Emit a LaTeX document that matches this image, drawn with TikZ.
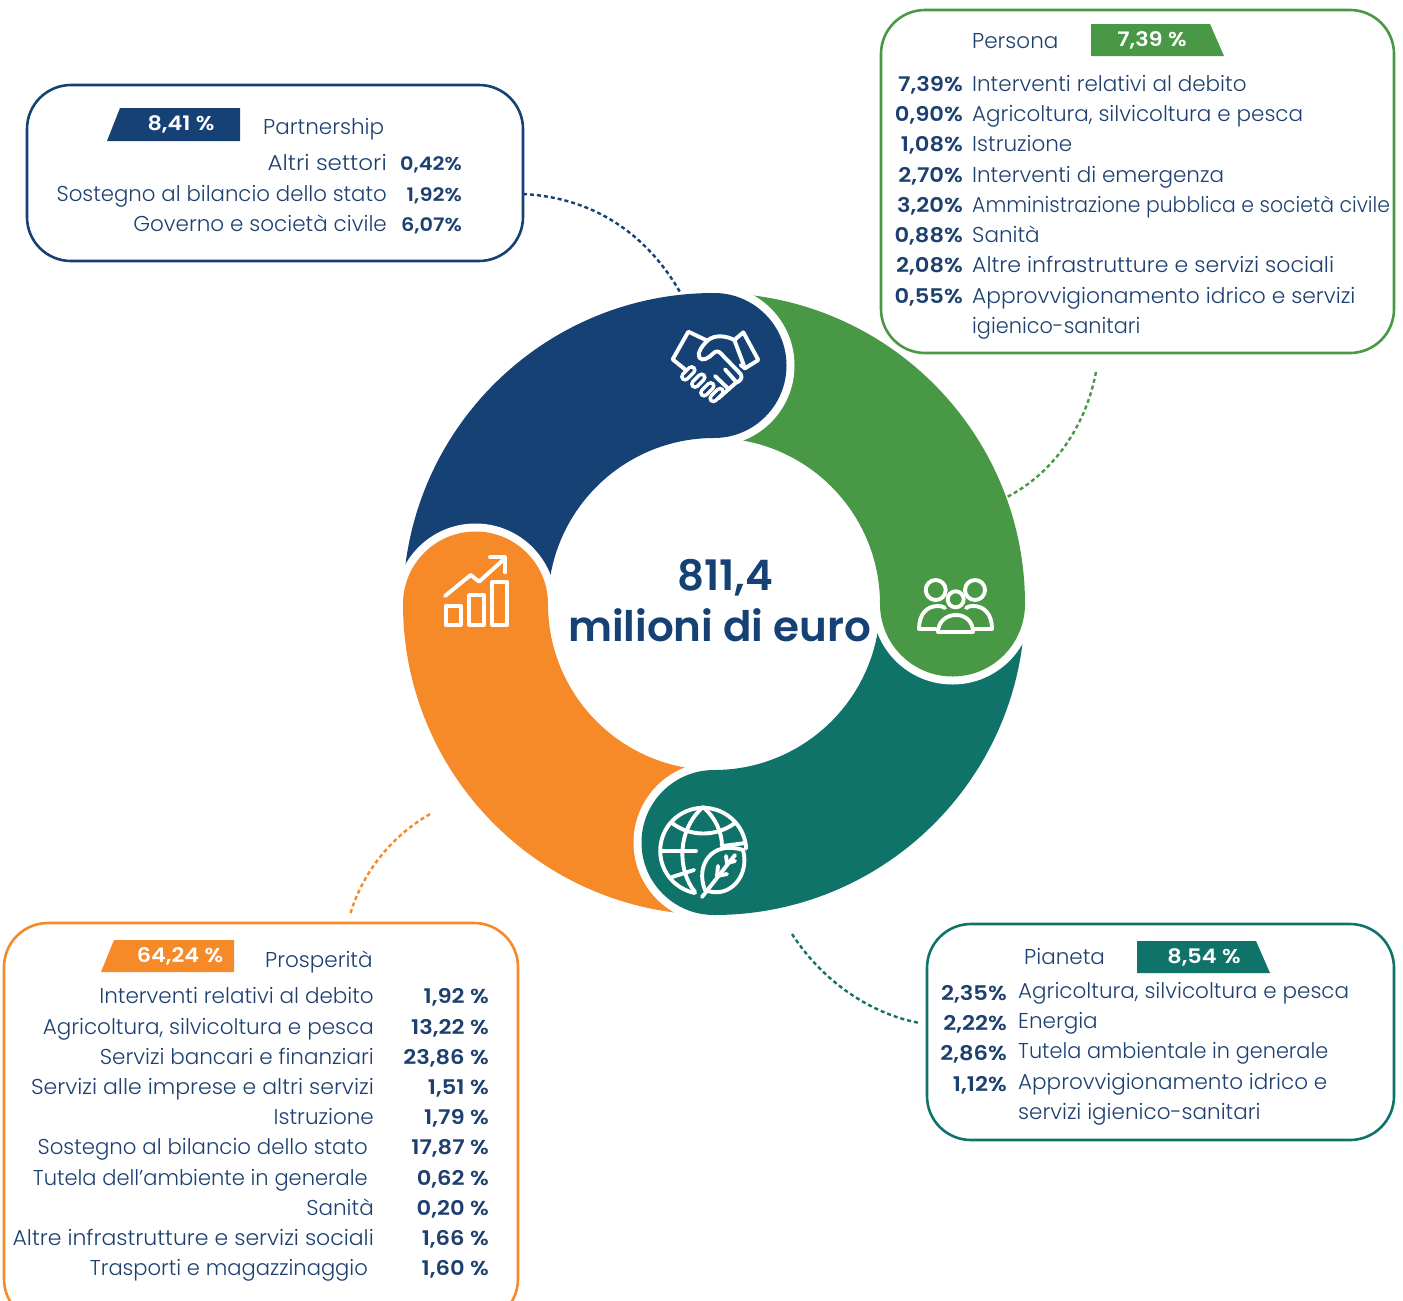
\documentclass[tikz,border=0pt]{standalone}
\usepackage{fontspec}
\setmainfont{Poppins}[UprightFont=* Light,BoldFont=* SemiBold]
\newfontfamily\valfont{Poppins SemiBold}[FakeStretch=1.12]
\definecolor{cblue}{HTML}{154175}
\definecolor{cgreen}{HTML}{499845}
\definecolor{cteal}{HTML}{107369}
\definecolor{corange}{HTML}{F68A29}
\definecolor{ctext}{HTML}{1D4071}
\tikzset{
  panel/.style={draw=#1,line width=2.6pt,rounded corners=44pt,fill=white,outer sep=0pt,inner sep=0pt,anchor=north west},
  link/.style={draw=#1,line width=2.4pt,dash pattern=on 4pt off 3pt},
  badge/.style={fill=#1},
  badgetext/.style={text=white,font=\fontsize{20}{24}\valfont,inner sep=0pt,anchor=center},
  lab/.style={text=ctext,font=\fontsize{21.5}{24}\selectfont,inner sep=0pt},
  val/.style={text=ctext,font=\fontsize{20.2}{24}\valfont,inner sep=0pt},
  valsmall/.style={text=ctext,font=\fontsize{18.6}{24}\valfont,inner sep=0pt},
  icon/.style={draw=white,line width=3.9pt,line cap=round,line join=round},
}
\newcommand\rowL[4]{%
  \node[val,anchor=base east] (v#1) at (#2,#4) {#3};}
\newcommand\rowS[4]{%
  \node[valsmall,anchor=base east] (v#1) at (#2,#4) {#3};}
\newcommand\rowT[4]{%
  \node[lab,anchor=base #3] (#1) at (#2) {#4};}
\begin{document}
\begin{tikzpicture}[x=1pt,y=-1pt]
\clip (0,0) rectangle (1403,1301);
\fill[white] (0,0) rectangle (1403,1301);
\def\Ro{311}\def\Ri{166}
% quadrants
\fill[cgreen] (714,293) arc[start angle=-90,end angle=0,radius=\Ro] -- (880,604) arc[start angle=0,end angle=-90,radius=\Ri] -- cycle;
\fill[cteal] (1025,604) arc[start angle=0,end angle=90,radius=\Ro] -- (714,770) arc[start angle=90,end angle=0,radius=\Ri] -- cycle;
\fill[corange] (714,915) arc[start angle=90,end angle=180,radius=\Ro] -- (548,604) arc[start angle=180,end angle=90,radius=\Ri] -- cycle;
\fill[cblue] (403,604) arc[start angle=180,end angle=270,radius=\Ro] -- (714,438) arc[start angle=270,end angle=180,radius=\Ri] -- cycle;
% round caps with a white edge, each over the next segment
\begin{scope}\clip (714,270) rectangle (810,460); \fill[white] (714,365.5) circle[radius=80.5];\end{scope}
\fill[cblue] (714,365.5) circle[radius=72.5];
\begin{scope}\clip (860,604) rectangle (1040,700); \fill[white] (952.5,604) circle[radius=80.5];\end{scope}
\fill[cgreen] (952.5,604) circle[radius=72.5];
\begin{scope}\clip (620,750) rectangle (714,930); \fill[white] (714,842.5) circle[radius=80.5];\end{scope}
\fill[cteal] (714,842.5) circle[radius=72.5];
\begin{scope}\clip (390,510) rectangle (570,604); \fill[white] (475.5,604) circle[radius=80.5];\end{scope}
\fill[corange] (475.5,604) circle[radius=72.5];
% centre text
\node[text=cblue,font=\fontsize{42}{50}\selectfont\bfseries,inner sep=0pt,anchor=base] (total) at (725,590) {811,4};
\node[text=cblue,font=\fontsize{42}{50}\selectfont\bfseries,inner sep=0pt,anchor=base] (unit) at (719.5,641) {milioni di euro};
% handshake icon (coordinates of a 3x crop)
\begin{scope}[shift={(630,290)},x=0.33333pt,y=-0.33333pt,icon]
 \draw (165,238) -- (128,208) -- (175,125) -- (232,152);
 \draw (313,150) -- (340,127) -- (385,210) -- (345,235) -- cycle;
 \draw (313,150) .. controls (290,138) and (255,132) .. (232,152) .. controls (218,165) and (200,190) .. (208,203) .. controls (218,215) and (235,205) .. (250,190) .. controls (258,182) and (266,183) .. (272,190) -- (332,252) .. controls (340,265) and (328,275) .. (318,278) -- (265,325);
 \draw (332,225) -- (345,235);
 \draw (255,258) -- (297,298);
 \draw (285,238) -- (318,275);
 \foreach \cx/\cy in {175/250,205/272,232/298,260/315} {
  \draw[line width=10pt] (\cx-10,\cy+10) -- (\cx+10,\cy-10);
  \draw[draw=cblue,line width=2.8pt] (\cx-10,\cy+10) -- (\cx+10,\cy-10);
 }
\end{scope}
% people icon
\begin{scope}[icon]
 \draw (935.7,590) circle[radius=10];
 \draw (975,590) circle[radius=10];
 \draw (955.7,599.3) circle[radius=8];
 \draw (936,629) -- (919,629) .. controls (919,615) and (926,606) .. (938,606) .. controls (941,606) and (943,606.5) .. (945,608);
 \draw (974,629) -- (992,629) .. controls (992,615) and (985,606) .. (973,606) .. controls (970,606) and (968,606.5) .. (966,608);
 \draw (938,632) .. controls (938,622) and (946,615) .. (956,615) .. controls (966,615) and (973,622) .. (973,632) -- cycle;
\end{scope}
% globe and leaf icon
\begin{scope}[icon]
 \draw (695,893) arc[start angle=101,end angle=357,radius=43];
 \draw (703,807) .. controls (677,830) and (677,870) .. (695,892);
 \draw (703,807) .. controls (715,817) and (722,832) .. (722,846);
 \draw (672,823) .. controls (690,837) and (716,837) .. (735,823);
 \draw (662,851) -- (696,851);
 \draw (672,877) -- (694,870);
 \draw (723,846) -- (745,843);
 \draw (705,890) .. controls (695,865) and (712,840) .. (743,850) .. controls (750,875) and (730,900) .. (705,890) -- cycle;
 \draw (702,897) -- (735,855);
 \draw (717,876) -- (718,866) (717,876) -- (727,874);
 \draw (727,863) -- (726,856) (727,863) -- (735,861);
\end{scope}
% chart icon
\begin{scope}[icon]
 \draw (445.7,606) rectangle (460.7,625);
 \draw (469,595) rectangle (484,625);
 \draw (492.3,582.3) rectangle (507.3,625);
 \draw (445,596) -- (470.7,575) -- (479,581.7) -- (505,558.3);
 \draw (490,557.3) -- (505,557.3) -- (505,572.3);
\end{scope}
% Partnership panel
\node[panel=cblue,minimum width=496pt,minimum height=176pt] (pa) at (27,85) {};
\coordinate (paend) at (523,194);
\coordinate (paring) at (680,292);
\draw[link=cblue] (paend) .. controls (600,198) and (650,240) .. (paring);
\fill[badge=cblue] (120,108) -- (240,108) -- (240,141) -- (107,141) -- cycle;
\node[badgetext] (pab) at (181,124.5) {8,41 \%};
\rowT{pah}{263,134}{west}{Partnership}
\rowT{pa1}{387,170}{east}{\scalebox{1.07}[1]{Altri settori}}
\rowT{pa2}{387,201}{east}{\scalebox{0.99}[1]{Sostegno al bilancio dello stato}}
\rowT{pa3}{387,231}{east}{Governo e società civile}
\rowS{pa1}{462}{0,42\%}{170}
\rowS{pa2}{462}{1,92\%}{201}
\rowS{pa3}{462}{6,07\%}{231}
% Persona panel
\node[panel=cgreen,minimum width=513pt,minimum height=343pt] (pe) at (881,10) {};
\coordinate (peend) at (1096,372);
\coordinate (pering) at (1007,497);
\draw[link=cgreen] (peend) .. controls (1085,430) and (1050,475) .. (pering);
\fill[badge=cgreen] (1091,24) -- (1210,24) -- (1224,56) -- (1091,56) -- cycle;
\node[badgetext] (peb) at (1152,40.5) {7,39 \%};
\rowT{peh}{972,48}{west}{Persona}
\rowT{pe1}{972,91}{west}{Interventi relativi al debito}
\rowT{pe2}{972,121}{west}{Agricoltura, silvicoltura e pesca}
\rowT{pe3}{972,151}{west}{Istruzione}
\rowT{pe4}{972,182}{west}{Interventi di emergenza}
\rowT{pe5}{972,212}{west}{\scalebox{0.948}[1]{Amministrazione pubblica e società civile}}
\rowT{pe6}{972,242}{west}{Sanità}
\rowT{pe7}{972,272}{west}{\scalebox{1.025}[1]{Altre infrastrutture e servizi sociali}}
\rowT{pe8}{972,303}{west}{\scalebox{1.013}[1]{Approvvigionamento idrico e servizi}}
\rowT{pe9}{972,333}{west}{\scalebox{0.97}[1]{igienico-sanitari}}
\rowL{pe1}{963}{7,39\%}{91}
\rowL{pe2}{963}{0,90\%}{121}
\rowL{pe3}{963}{1,08\%}{151}
\rowL{pe4}{963}{2,70\%}{182}
\rowL{pe5}{963}{3,20\%}{212}
\rowL{pe6}{963}{0,88\%}{242}
\rowL{pe7}{963}{2,08\%}{272}
\rowL{pe8}{963}{0,55\%}{303}
% Pianeta panel
\node[panel=cteal,minimum width=467pt,minimum height=216pt] (pi) at (927,924) {};
\coordinate (piend) at (920,1023);
\coordinate (piring) at (792,934);
\draw[link=cteal] (piring) .. controls (825,985) and (875,1015) .. (piend);
\fill[badge=cteal] (1137,941) -- (1256,941) -- (1270,973) -- (1137,973) -- cycle;
\node[badgetext] (pib) at (1204,957.5) {8,54 \%};
\rowT{pih}{1024,964}{west}{Pianeta}
\rowT{pi1}{1018,998}{west}{Agricoltura, silvicoltura e pesca}
\rowT{pi2}{1018,1028}{west}{Energia}
\rowT{pi3}{1018,1058}{west}{\scalebox{0.968}[1]{Tutela ambientale in generale}}
\rowT{pi4}{1018,1089}{west}{Approvvigionamento idrico e}
\rowT{pi5}{1018,1119}{west}{servizi igienico-sanitari}
\rowL{pi1}{1007}{2,35\%}{1000}
\rowL{pi2}{1007}{2,22\%}{1030}
\rowL{pi3}{1007}{2,86\%}{1060}
\rowL{pi4}{1007}{1,12\%}{1091}
% Prosperita panel
\node[panel=corange,minimum width=514pt,minimum height=400pt] (pr) at (4,923) {};
\coordinate (prend) at (350,915);
\coordinate (prring) at (430,814);
\draw[link=corange] (prring) .. controls (385,840) and (360,880) .. (prend);
\fill[badge=corange] (114,940) -- (234,940) -- (234,972) -- (101,972) -- cycle;
\node[badgetext] (prb) at (180,956.5) {64,24 \%};
\rowT{prh}{265,967}{west}{Prosperità}
\rowT{pr1}{374,1003}{east}{Interventi relativi al debito}
\rowT{pr2}{374,1034}{east}{Agricoltura, silvicoltura e pesca}
\rowT{pr3}{374,1064}{east}{Servizi bancari e finanziari}
\rowT{pr4}{374,1094}{east}{\scalebox{1.023}[1]{Servizi alle imprese e altri servizi}}
\rowT{pr5}{374,1124}{east}{Istruzione}
\rowT{pr6}{368,1154}{east}{\scalebox{0.99}[1]{Sostegno al bilancio dello stato}}
\rowT{pr7}{368,1185}{east}{\scalebox{0.977}[1]{Tutela dell'ambiente in generale}}
\rowT{pr8}{374,1215}{east}{Sanità}
\rowT{pr9}{374,1245}{east}{\scalebox{1.023}[1]{Altre infrastrutture e servizi sociali}}
\rowT{pr10}{368,1275}{east}{\scalebox{0.98}[1]{Trasporti e magazzinaggio}}
\rowL{pr1}{489}{1,92 \%}{1003}
\rowL{pr2}{489}{13,22 \%}{1034}
\rowL{pr3}{489}{23,86 \%}{1064}
\rowL{pr4}{489}{1,51 \%}{1094}
\rowL{pr5}{489}{1,79 \%}{1124}
\rowL{pr6}{489}{17,87 \%}{1154}
\rowL{pr7}{489}{0,62 \%}{1185}
\rowL{pr8}{489}{0,20 \%}{1215}
\rowL{pr9}{489}{1,66 \%}{1245}
\rowL{pr10}{489}{1,60 \%}{1275}
\end{tikzpicture}
\end{document}
